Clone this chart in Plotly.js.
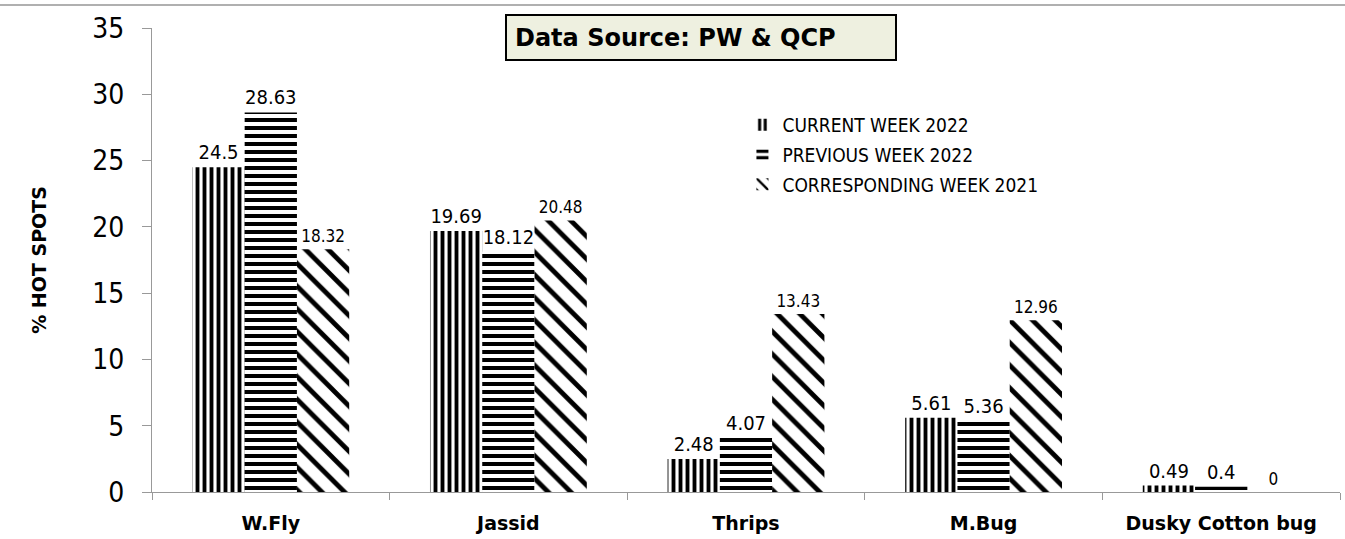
<!DOCTYPE html>
<html>
<head>
<meta charset="utf-8">
<script src="https://cdn.plot.ly/plotly-3.0.1.min.js"></script>
<style>html,body{margin:0;padding:0;background:#fff;}#chart{width:1345px;height:539px;}</style>
</head>
<body>
<div id="chart"></div>
<script>
const categories = ["W.Fly", "Jassid", "Thrips", "M.Bug", "Dusky Cotton bug"];
const currentWeek2022 = [24.5, 19.69, 2.48, 5.61, 0.49];
const previousWeek2022 = [28.63, 18.12, 4.07, 5.36, 0.4];
const correspondingWeek2021 = [18.32, 20.48, 13.43, 12.96, 0];
const seriesNames = ["CURRENT WEEK 2022", "PREVIOUS WEEK 2022", "CORRESPONDING WEEK 2021"];
const yTicks = [0, 5, 10, 15, 20, 25, 30, 35];

const FONT = "Tahoma, 'DejaVu Sans Condensed', 'DejaVu Sans', sans-serif";
const BOLD = "'DejaVu Sans', Verdana, sans-serif";

function barTrace(name, values, shape, size, solidity, labelSize, group) {
  return {
    type: 'bar',
    name: name,
    legendgroup: group,
    x: categories,
    y: values,
    texttemplate: '%{y}',
    textposition: 'outside',
    constraintext: 'none',
    cliponaxis: false,
    textfont: {family: FONT, size: labelSize, color: '#000'},
    marker: {
      color: 'white',
      line: {width: 0},
      pattern: {shape: shape, fgcolor: '#000', bgcolor: '#fff', size: size, solidity: solidity, fillmode: 'replace'}
    },
    hoverinfo: 'none'
  };
}

const data = [
  barTrace(seriesNames[0], currentWeek2022, '|', 7, 0.55, 20, 'g1'),
  barTrace(seriesNames[1], previousWeek2022, '-', 8, 0.5, 20, 'g2'),
  barTrace(seriesNames[2], correspondingWeek2021, '\\', 16, 0.3, 17, 'g3')
];

const layout = {
  width: 1345,
  height: 539,
  margin: {l: 152, r: 5, t: 28, b: 47},
  paper_bgcolor: '#fff',
  plot_bgcolor: '#fff',
  font: {family: FONT, color: '#000'},
  barmode: 'group',
  bargap: 0.34,
  bargroupgap: 0,
  showlegend: true,
  legend: {
    x: 0.497, y: 0.832, xanchor: 'left', yanchor: 'top',
    font: {family: FONT, size: 19, color: '#000'},
    bgcolor: 'rgba(0,0,0,0)',
    tracegroupgap: 2,
    itemwidth: 30
  },
  xaxis: {
    type: 'category',
    showline: true, linecolor: '#999', linewidth: 1,
    ticks: 'outside', tickson: 'boundaries', ticklen: 7, tickcolor: '#999',
    tickfont: {family: BOLD, size: 19, color: '#000', weight: 'bold'},
    ticklabelstandoff: 14,
    showgrid: false, zeroline: false, fixedrange: true
  },
  yaxis: {
    range: [0, 35],
    tickvals: yTicks,
    ticktext: yTicks.map(String),
    showline: true, linecolor: '#999', linewidth: 1,
    ticks: 'outside', ticklen: 9, tickcolor: '#999',
    tickfont: {family: FONT, size: 28, color: '#000'},
    ticklabelstandoff: 12,
    showgrid: false, zeroline: false, fixedrange: true,
    title: {text: '% HOT SPOTS', font: {family: BOLD, size: 19, color: '#000', weight: 'bold'}, standoff: 40}
  },
  annotations: [{
    xref: 'paper', yref: 'paper', x: 0.462, y: 0.9795,
    xanchor: 'center', yanchor: 'middle',
    text: '<b>Data Source: PW &amp; QCP</b>',
    showarrow: false,
    align: 'left',
    width: 372, height: 27,
    font: {family: BOLD, size: 24, color: '#000'},
    bgcolor: '#eef0e0', bordercolor: '#000', borderwidth: 2, borderpad: 8
  }],
  shapes: [{
    type: 'line', xref: 'paper', yref: 'paper',
    x0: -0.13, x1: 1.01, y0: 1.0496, y1: 1.0496,
    line: {color: '#b0b0b0', width: 2}
  }]
};

Plotly.newPlot('chart', data, layout, {displayModeBar: false, staticPlot: true});
</script>
</body>
</html>
